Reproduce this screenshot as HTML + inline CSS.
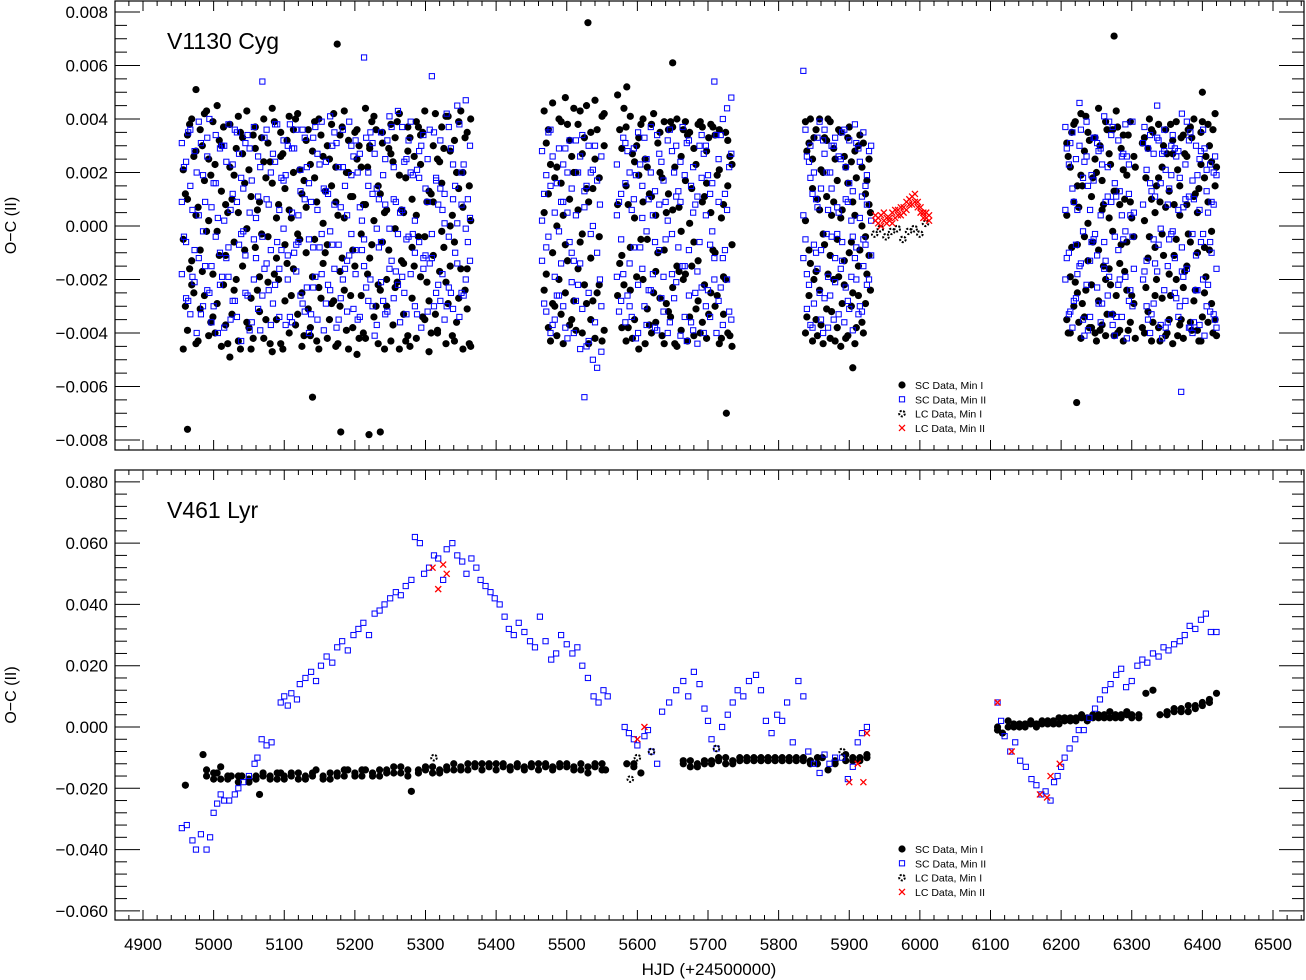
<!DOCTYPE html>
<html><head><meta charset="utf-8"><style>
html,body{margin:0;padding:0;background:#fff;}
svg{display:block;font-family:"Liberation Sans",sans-serif;}
</style></head><body>
<svg id="chart" width="1306" height="980" xmlns="http://www.w3.org/2000/svg"></svg>
<script>
// ---------- DATA (x = HJD-2450000, y in units of 1e-3 days) ----------
// Top panel: V1130 Cyg. Rows: [x, y1, y2, y3]
const topScMin1 = [
[4957,-4.6,2.1,-0.5],[4963,3.4,-3.9,1.0],[4969,-2.2,4.0,-1.3],[4975,0.4,-4.4,2.8],[4981,-3.1,3.6,-0.9],
[4987,1.7,-2.6,4.2],[4993,-4.1,0.2,2.5],[4999,-1.8,3.9,-3.4],[5005,-0.2,4.5,-2.9],[5011,1.3,-4.5,3.0],
[5017,-1.1,0.8,-3.7],[5023,2.2,-4.9,3.8],[5029,-0.6,1.9,-2.4],[5035,4.1,-4.3,0.5],[5041,2.7,-1.5,3.3],
[5047,-3.6,-0.1,4.3],[5053,-2.7,1.1,-4.6],[5059,2.9,-0.8,3.7],[5065,-3.2,0.9,-1.9],[5071,4.0,-4.2,2.4],
[5077,-0.4,3.1,-2.1],[5083,1.6,-4.7,4.4],[5089,-1.2,0.3,-3.5],[5095,2.6,-4.4,3.5],[5101,-0.7,1.4,-2.8],
[5107,4.1,-4.0,0.6],[5113,2.0,-1.6,3.6],[5119,-3.3,-0.3,4.2],[5125,-2.5,1.2,-4.5],[5131,3.2,-1.0,0.7],
[5137,-3.8,2.3,-4.1],[5143,3.9,-0.5,1.8],[5149,-2.3,4.0,-4.6],[5155,0.1,2.6,-1.4],[5161,-4.2,3.0,-0.7],
[5167,1.5,-2.9,3.8],[5173,-4.5,0.9,2.2],[5179,-1.7,3.4,-3.0],[5185,0.3,4.3,-2.4],[5191,2.0,-4.6,3.2],
[5197,-0.9,1.1,-3.8],[5203,2.5,-4.8,3.6],[5209,-0.3,2.2,-2.6],[5215,4.4,-4.2,0.8],[5221,2.9,-1.2,3.0],
[5227,-3.4,0.2,4.1],[5233,-2.2,1.5,-4.4],[5239,3.1,-0.6,3.5],[5245,-3.0,0.6,-2.0],[5251,3.8,-4.3,2.7],
[5257,-0.1,3.3,-2.3],[5263,1.9,-4.6,4.2],[5269,-1.4,0.5,-3.3],[5275,2.8,-4.1,3.7],[5281,-0.8,1.0,-2.7],
[5287,3.9,-4.2,0.4],[5293,2.3,-1.9,3.4],[5299,-3.5,-0.4,4.3],[5305,-2.8,1.3,-4.7],[5311,3.0,-1.1,0.9],
[5317,-3.9,2.5,-4.0],[5323,3.7,-0.2,1.6],[5329,-2.1,4.1,-4.4],[5335,0.0,2.8,-1.5],[5341,-4.3,3.2,-0.6],
[5347,1.4,-2.7,3.9],[5353,-4.6,0.7,2.0],[5359,-1.6,3.5,-3.1],[5364,0.2,4.0,-4.5],
[5468,-2.4,4.3,0.5],[5474,3.6,-3.8,1.2],[5480,-1.0,4.6,-2.9],[5486,2.2,-4.1,0.0],[5492,-3.3,3.9,1.6],
[5498,4.8,-2.5,-0.7],[5504,1.0,-3.7,3.2],[5510,-2.8,4.4,2.0],[5516,0.6,-1.6,3.8],[5522,-4.0,2.7,-0.3],
[5528,4.5,-2.9,1.4],[5534,-1.2,3.5,-3.5],[5540,2.5,-4.2,4.7],[5546,-0.4,1.8,-2.2],[5553,3.0,-3.9,4.2],
[5572,4.9,-2.6,0.8],[5578,-3.8,2.9,-1.1],[5584,1.5,-4.3,3.7],[5590,-0.8,4.1,-2.4],[5596,2.4,-3.5,0.3],
[5602,-4.6,3.3,1.9],[5608,0.9,-2.0,4.0],[5614,-3.1,2.2,-0.5],[5620,3.8,-4.0,1.1],[5626,-1.7,0.4,-3.6],
[5632,3.5,-2.7,2.0],[5638,-4.4,3.9,-0.9],[5644,1.2,-3.2,3.6],[5650,-2.3,3.7,0.6],[5656,4.0,-4.5,-1.5],
[5662,-0.2,2.6,-3.9],[5668,3.9,-1.8,1.7],[5674,-3.4,0.1,3.5],[5680,2.9,-4.1,-0.6],[5686,-1.3,3.8,-2.8],
[5692,3.7,-3.6,0.9],[5698,-4.2,1.6,2.8],[5704,0.5,-2.5,3.8],[5710,-3.0,3.4,-1.0],[5716,2.1,-4.4,3.6],
[5722,-1.9,0.8,-3.3],[5728,3.2,-4.0,1.5],[5734,-0.7,2.3,-4.5],
[5838,3.9,-4.0,0.2],[5843,-2.6,3.1,-0.9],[5848,1.4,-4.3,2.5],[5853,-1.7,3.6,-3.5],[5858,0.6,-2.4,4.0],
[5863,-4.4,2.0,-0.3],[5868,3.2,-3.1,1.1],[5873,-1.1,3.9,-4.2],[5878,0.9,-2.0,2.9],[5883,-3.8,1.7,-0.5],
[5888,3.5,-4.5,0.3],[5893,-2.2,2.6,-1.3],[5898,1.6,-4.1,3.3],[5903,-0.6,2.4,-3.0],[5908,2.8,-4.4,0.4],
[5913,-1.5,3.0,-2.6],[5918,0.0,-3.6,2.2],[5923,-2.9,1.2,-0.4],[5928,2.5,-1.1,0.8],
[6208,3.1,-3.5,0.4],[6213,-1.9,2.2,-4.0],[6218,0.9,-3.0,3.8],[6223,-2.5,1.5,-0.7],[6228,4.2,-4.2,1.9],
[6233,-0.4,2.8,-3.4],[6238,3.5,-1.3,0.1],[6243,-3.8,1.1,-2.2],[6248,2.5,-4.0,3.3],[6253,-0.9,4.4,-2.8],
[6258,1.7,-3.7,0.6],[6263,-2.0,3.9,-4.1],[6268,0.3,-1.6,2.7],[6273,-3.3,3.6,-0.2],[6278,4.3,-2.6,1.3],
[6283,-1.4,0.8,-3.9],[6288,2.1,-4.3,3.4],[6293,-0.6,1.9,-2.4],[6298,3.9,-3.6,0.9],[6303,-2.9,2.6,-0.4],
[6318,3.3,-4.0,0.2],[6323,-1.2,2.9,-3.2],[6328,1.0,-4.3,3.6],[6333,-2.6,0.5,-0.8],[6338,3.8,-3.8,1.8],
[6343,-0.3,2.2,-2.7],[6348,3.6,-4.1,0.7],[6353,-1.8,1.3,-3.5],[6358,2.7,-4.4,3.2],[6363,-0.5,3.9,-2.0],
[6368,1.5,-3.7,0.4],[6373,-2.3,3.4,-4.2],[6378,0.8,-1.5,2.6],[6383,-3.6,3.7,-0.6],[6388,4.0,-2.8,1.1],
[6393,-1.0,0.5,-3.9],[6398,2.3,-4.3,3.5],[6403,-0.8,1.8,-2.5],[6408,3.8,-3.6,0.9],[6413,-2.9,2.4,-0.2],
[6418,4.2,-3.5,1.5],
[4963,-7.6],[4975,5.1],[5140,-6.4],[5175,6.8],[5180,-7.7],[5220,-7.8],[5236,-7.7],[5530,7.6],
[5585,5.2],[5650,6.1],[5726,-7.0],[5905,-5.3],[6222,-6.6],[6275,7.1],[6400,5.0]
];
const topScMin1Extra = [
[4960,1.2,-3.0],[4966,-1.6,3.8],[4972,2.6,-2.5],[4978,-4.3,0.7],[4984,3.0,-1.7],[4990,-0.2,4.3],[4996,-3.6,1.9],
[5002,2.3,-4.0],[5008,-1.1,3.2],[5014,3.7,-2.2],[5020,-4.4,0.5],[5026,1.0,-3.3],[5032,-2.0,2.9],[5038,3.5,-4.6],
[5044,-0.9,1.6],[5050,2.1,-3.8],[5056,-4.2,3.4],[5062,0.6,-2.4],[5068,3.3,-0.3],[5074,-3.5,1.8],[5080,2.4,-4.4],
[5086,-1.8,3.9],[5092,0.8,-2.0],[5098,-4.6,2.7],[5104,3.2,-1.4],[5110,-2.6,0.3],[5116,4.0,-3.7],[5122,-0.5,2.1],
[5128,1.7,-4.1],[5134,-3.1,3.6],[5140,2.8,-1.9],[5146,-4.3,0.9],[5152,3.4,-2.7],[5158,-1.0,1.3],[5164,2.5,-3.5],
[5170,-2.8,4.2],[5176,0.4,-4.4],[5182,3.7,-1.2],[5188,-3.9,2.0],[5194,1.1,-2.6],[5200,-1.5,3.5],[5206,3.0,-4.2],
[5212,-4.0,0.8],[5218,2.2,-1.8],[5224,-0.7,3.9],[5230,3.6,-3.0],[5236,-2.4,1.2],[5242,0.5,-4.6],[5248,2.9,-0.9],
[5254,-3.7,2.4],[5260,3.9,-2.1],[5266,-1.3,0.6],[5272,1.8,-4.3],[5278,-4.5,3.3],[5284,2.6,-1.5],[5290,-0.4,3.7],
[5296,3.5,-3.4],[5302,-2.1,0.9],[5308,1.2,-4.0],[5314,-3.3,4.2],[5320,2.4,-1.7],[5326,-0.8,2.9],[5332,4.1,-2.9],
[5338,-4.1,0.4],[5344,2.0,-3.6],[5350,-1.6,4.3],[5356,3.3,-2.4],[5362,-4.4,1.5],
[5471,3.1,-1.8],[5477,-4.3,2.3],[5483,1.8,-3.0],[5489,-2.0,4.0],[5495,0.4,-4.4],[5501,3.8,-1.3],[5507,-3.5,2.6],
[5513,2.0,-3.9],[5519,-0.6,4.3],[5525,3.3,-2.2],[5531,-4.4,0.9],[5537,1.4,-2.8],[5543,-2.5,3.6],[5550,4.1,-4.3],
[5575,3.6,-1.4],[5581,-2.2,4.4],[5587,0.8,-3.8],[5593,-4.2,2.7],[5599,3.0,-1.9],[5605,-0.5,3.8],[5611,2.5,-4.4],
[5617,-3.7,1.2],[5623,4.2,-2.5],[5629,-1.0,3.1],[5635,1.8,-4.1],[5641,-2.9,0.5],[5647,3.9,-3.4],[5653,-4.4,2.2],
[5659,0.7,-1.7],[5665,-2.0,3.6],[5671,3.4,-4.3],[5677,-1.5,1.4],[5683,2.3,-3.1],[5689,-4.0,3.9],[5695,1.1,-2.2],
[5701,-3.3,3.3],[5707,3.7,-0.9],[5713,-2.6,1.9],[5719,0.3,-4.2],[5725,3.5,-2.0],[5731,-4.1,2.6],
[5840,2.8,-3.4],[5845,-1.4,4.0],[5850,3.3,-2.0],[5855,-4.1,1.0],[5860,2.1,-3.7],[5865,-0.7,3.3],[5870,4.0,-1.8],
[5875,-3.2,0.4],[5880,2.5,-4.3],[5885,-1.9,3.6],[5890,0.6,-2.9],[5895,-4.2,2.2],[5900,3.7,-1.0],[5905,-2.5,0.9],
[5910,1.8,-3.8],[5915,-0.9,3.4],[5920,3.1,-4.0],[5925,-1.8,1.7],[5930,0.5,-2.4],
[6210,2.6,-4.0],[6215,-0.8,3.5],[6220,3.9,-2.1],[6225,-3.6,0.7],[6230,1.5,-2.9],[6235,-2.4,4.1],[6240,3.2,-3.8],
[6245,-0.6,1.8],[6250,2.0,-4.3],[6255,-3.9,3.0],[6260,0.8,-1.5],[6265,3.6,-3.3],[6270,-2.2,2.3],[6275,1.3,-4.1],
[6280,-4.0,3.7],[6285,2.9,-0.7],[6290,-1.7,1.0],[6295,3.4,-3.9],[6300,-2.6,0.3],[6305,2.2,-4.2],
[6315,-3.8,3.1],[6320,1.8,-2.3],[6325,-0.4,4.0],[6330,3.5,-3.6],[6335,-2.0,1.5],[6340,0.9,-4.3],[6345,3.0,-1.1],
[6350,-4.0,2.7],[6355,3.8,-2.6],[6360,-1.1,0.8],[6365,2.1,-4.1],[6370,-3.5,3.3],[6375,2.7,-1.7],[6380,-0.3,3.6],
[6385,3.3,-3.9],[6390,-2.4,1.2],[6395,1.4,-4.3],[6400,-3.4,3.9],[6405,2.6,-1.9],[6410,-0.9,3.0],[6415,3.6,-4.0],
[6420,-4.1,2.2]
];
const topScMin2 = [
[4955,3.1,-1.8,0.9],[4961,-2.7,2.4,-0.6],[4967,1.5,-3.3,3.6],[4973,-0.9,2.8,-2.1],[4979,3.9,-1.2,0.4],
[4985,-3.0,1.9,-0.2],[4991,2.6,-2.4,3.3],[4997,-1.5,0.7,-3.6],[5003,3.4,-0.4,1.6],[5009,-2.2,2.9,-1.0],
[5015,0.2,-3.8,3.0],[5021,-1.9,3.8,-0.8],[5027,2.3,-2.8,1.2],[5033,-3.4,0.9,3.5],[5039,1.8,-4.3,-0.3],
[5045,-1.1,3.1,-2.5],[5051,2.9,-3.9,0.5],[5057,-0.5,3.7,-2.0],[5063,1.1,-3.1,2.6],[5069,-2.6,5.4,-0.4],
[5075,3.6,-1.4,1.0],[5081,-3.7,2.0,-0.9],[5087,2.4,-2.2,3.8],[5093,-1.6,0.6,-3.4],[5099,3.2,-0.1,1.7],
[5105,-2.0,3.0,-1.1],[5111,0.5,-3.6,2.9],[5117,-1.7,3.6,-0.7],[5123,2.1,-2.6,1.3],[5129,-3.2,1.0,3.3],
[5135,1.6,-4.0,-0.5],[5141,-0.8,3.3,-2.3],[5147,2.7,-3.5,0.6],[5153,-0.3,3.9,-1.8],[5159,1.3,-2.9,2.4],
[5165,-2.4,4.1,-0.2],[5171,3.5,-1.6,0.8],[5177,-3.5,2.2,-0.7],[5183,2.2,-2.0,3.6],[5189,-1.3,0.4,-3.2],
[5195,3.0,-0.3,1.9],[5201,-1.8,3.2,-0.9],[5207,0.7,-3.4,2.7],[5213,-1.5,6.3,-0.5],[5219,2.0,-2.8,1.5],
[5225,-3.0,1.2,3.1],[5231,1.4,-3.7,-0.1],[5237,-0.6,3.5,-2.1],[5243,2.5,-3.3,0.8],[5249,-0.1,4.1,-1.6],
[5255,1.0,-2.7,2.2],[5261,-2.2,4.3,-0.3],[5267,3.7,-1.9,0.6],[5273,-3.3,2.5,-0.5],[5279,2.0,-1.8,3.9],
[5285,-1.0,0.2,-3.0],[5291,2.8,-0.6,1.8],[5297,-1.6,3.4,-1.2],[5303,0.9,-3.2,2.5],[5309,-1.2,5.6,-0.3],
[5315,1.8,-2.5,1.7],[5321,-2.8,1.4,3.2],[5327,1.2,-3.5,0.1],[5333,-0.4,3.7,-2.3],[5339,2.3,-3.1,1.0],
[5345,0.1,4.5,-1.4],[5351,0.8,-2.5,2.0],[5357,-2.0,4.7,-0.1],[5363,3.0,-1.3,0.3],
[5465,2.8,-1.3,0.2],[5471,-3.2,1.9,-0.8],[5477,1.5,-4.0,3.6],[5483,-1.9,0.5,-3.5],[5489,2.9,-0.2,-2.6],
[5495,-3.0,2.3,0.9],[5501,0.5,-4.2,2.0],[5507,-2.1,1.4,-1.0],[5513,3.2,-2.8,0.4],[5519,-1.4,2.6,-4.6],
[5525,0.7,-6.4,1.3],[5531,-2.5,3.0,-4.3],[5537,2.1,-5.0,0.0],[5543,-1.0,1.7,-5.3],[5549,2.6,-3.0,-4.7],
[5571,2.3,-1.9,0.4],[5577,-2.8,1.2,-0.5],[5583,3.1,-3.6,1.6],[5589,-1.4,2.0,-3.0],[5595,1.0,-0.8,2.9],
[5601,-2.2,3.5,-4.0],[5607,0.3,-1.6,1.5],[5613,-3.7,2.5,-0.2],[5619,2.0,-2.4,3.7],[5625,-0.6,1.3,-3.8],
[5631,2.7,-0.9,0.8],[5637,-3.2,1.7,-1.9],[5643,0.2,-4.0,3.2],[5649,-1.8,2.8,-0.3],[5655,3.0,-2.1,1.1],
[5661,-4.1,0.9,2.4],[5667,1.9,-1.5,-3.4],[5673,-0.9,3.2,-2.6],[5679,2.2,-3.9,0.5],[5685,-1.7,1.1,-4.4],
[5691,3.4,-2.3,1.8],[5697,-3.0,0.4,3.0],[5703,1.2,-3.4,-0.7],[5709,-2.0,5.4,-1.2],[5715,2.5,-2.8,0.9],
[5721,-1.2,4.0,-3.7],[5727,0.6,-2.0,4.4],[5733,-3.5,2.7,4.8],
[5835,5.8,-1.2,0.4],[5840,-3.1,2.6,-1.8],[5845,1.8,-3.7,3.0],[5850,-0.7,2.0,-2.9],[5855,3.3,-1.6,0.7],
[5860,-3.5,1.4,-0.9],[5865,2.7,-2.7,3.6],[5870,-1.9,0.6,-3.8],[5875,3.0,-0.4,1.4],[5880,-2.1,3.3,-1.2],
[5885,0.5,-3.3,2.6],[5890,-1.3,3.5,-0.6],[5895,2.2,-2.3,1.0],[5900,-3.1,1.6,3.2],[5905,1.3,-3.9,-0.4],
[5910,-0.8,3.1,-2.0],[5915,2.4,-3.0,0.3],[5920,-0.5,3.5,-1.5],[5925,0.8,-2.2,1.9],[5931,-1.1,3.0,0.2],
[6206,3.7,-2.0,0.6],[6211,-3.3,2.3,-1.0],[6216,1.4,-3.8,3.5],[6221,-0.7,2.5,-2.7],[6226,3.0,-1.5,4.6],
[6231,-3.5,1.8,-0.2],[6236,2.6,-2.2,3.9],[6241,-1.3,0.6,-3.4],[6246,3.3,-0.5,1.7],[6251,-2.3,3.1,-1.1],
[6256,0.4,-3.6,2.9],[6261,-1.6,4.1,-0.6],[6266,2.2,-2.6,1.1],[6271,-3.3,0.9,3.4],[6276,1.6,-4.1,-0.4],
[6281,-0.9,3.2,-2.2],[6286,2.6,-3.4,0.4],[6291,-0.2,3.8,-1.9],[6296,1.2,-2.8,2.3],[6301,-3.0,3.9,-0.4],
[6316,3.1,-2.0,0.8],[6321,-3.0,2.1,-1.3],[6326,1.6,-4.0,3.4],[6331,-0.5,2.7,-2.9],[6336,3.3,-1.7,4.5],
[6341,-3.7,1.6,-0.1],[6346,2.8,-2.4,3.6],[6351,-1.5,0.8,-3.6],[6356,3.0,-0.3,1.9],[6361,-2.5,2.9,-1.2],
[6366,0.6,-3.4,2.8],[6371,-1.7,4.2,-0.8],[6376,2.3,-2.8,1.0],[6381,-3.8,1.1,3.2],[6386,1.7,-4.0,-0.3],
[6391,-1.1,3.0,-2.4],[6396,2.5,-3.7,0.6],[6401,-0.3,3.6,-2.0],[6406,1.3,-3.0,2.1],[6411,-3.2,2.3,-0.6],
[6416,2.0,-3.3,0.8],[6420,-1.6,1.9,-3.8],[6370,-6.2]
];
const topScMin2Extra = [
[4958,-0.4,2.2],[4964,3.5,-2.8],[4970,-1.9,0.6],[4976,2.0,-4.0],[4982,-3.3,3.1],[4988,0.9,-1.5],[4994,-2.5,4.0],
[5000,1.6,-3.0],[5006,-4.0,0.3],[5012,3.0,-1.9],[5018,-1.2,2.4],[5024,0.6,-3.5],[5030,-2.8,3.6],[5036,2.7,-0.7],
[5042,-0.2,1.4],[5048,3.4,-2.6],[5054,-3.6,1.7],[5060,0.3,-1.2],[5066,2.2,-3.9],[5072,-1.6,3.3],[5078,0.8,-2.4],
[5084,-2.9,2.7],[5090,3.8,-0.6],[5096,-0.9,1.8],[5102,1.9,-3.7],[5108,-3.4,3.8],[5114,2.9,-1.0],[5120,-0.6,0.4],
[5126,3.6,-2.9],[5132,-2.3,2.2],[5138,0.9,-3.3],[5144,-1.9,3.7],[5150,2.3,-0.8],[5156,-3.9,1.4],[5162,1.2,-2.2],
[5168,-0.7,3.0],[5174,3.1,-3.8],[5180,-2.7,0.7],[5186,1.5,-1.6],[5192,-1.1,3.9],[5198,2.6,-3.1],[5204,-3.5,2.0],
[5210,0.2,-0.9],[5216,3.3,-2.3],[5222,-2.0,3.5],[5228,2.7,-4.1],[5234,-0.8,1.0],[5240,1.9,-2.8],[5246,-3.2,3.2],
[5252,3.7,-1.3],[5258,-1.7,0.9],[5264,0.5,-3.6],[5270,-2.5,2.4],[5276,3.2,-0.4],[5282,-0.3,1.9],[5288,2.1,-3.3],
[5294,-3.8,3.0],[5300,1.4,-1.1],[5306,-1.4,3.6],[5312,3.5,-3.0],[5318,-2.2,0.8],[5324,0.6,-1.8],[5330,-3.0,4.2],
[5336,2.9,-2.5],[5342,-1.0,1.5],[5348,3.8,-3.4],[5354,-2.6,2.3],[5360,1.0,-0.6],
[5468,1.2,-2.9],[5474,-0.4,3.5],[5480,2.6,-3.7],[5486,-2.6,1.6],[5492,0.9,-1.4],[5498,-3.8,2.9],[5504,3.2,-0.6],
[5510,-1.3,-4.0],[5516,2.0,-2.2],[5522,-3.1,3.4],[5528,1.5,-4.5],[5534,-0.3,2.0],[5540,3.0,-3.6],[5547,-2.0,0.8],
[5574,0.9,-3.2],[5580,-1.8,3.3],[5586,2.8,-2.6],[5592,-3.4,0.6],[5598,1.9,-4.2],[5604,-0.8,2.3],[5610,3.3,-3.0],
[5616,-2.4,1.0],[5622,0.4,-1.8],[5628,-3.9,3.4],[5634,2.4,-2.7],[5640,-0.5,0.9],[5646,3.6,-3.6],[5652,-2.7,2.0],
[5658,1.3,-0.8],[5664,-1.5,3.7],[5670,3.1,-4.3],[5676,-3.6,1.5],[5682,0.8,-2.5],[5688,-0.6,3.0],[5694,2.7,-4.0],
[5700,-2.4,1.9],[5706,1.6,-0.2],[5712,-4.0,3.4],[5718,3.4,-2.3],[5724,-0.9,1.2],[5730,2.2,-3.2],
[5838,-0.5,3.6],[5843,2.4,-2.2],[5848,-3.8,1.2],[5853,1.0,-1.0],[5858,-2.5,3.9],[5863,3.2,-4.0],[5868,-0.3,2.0],
[5873,2.0,-2.6],[5878,-3.5,3.0],[5883,0.7,-0.3],[5888,-1.6,2.5],[5893,3.6,-3.6],[5898,-2.8,0.9],[5903,0.2,-1.9],
[5908,-1.2,3.8],[5913,2.9,-3.3],[5918,-3.2,1.1],[5923,1.5,-0.7],[5928,-2.0,2.8],
[6208,-1.2,2.9],[6213,3.1,-3.2],[6218,-2.8,0.9],[6223,0.6,-1.8],[6228,-1.4,3.6],[6233,2.4,-4.1],[6238,-3.9,1.5],
[6243,1.9,-0.6],[6248,-0.3,3.3],[6253,2.8,-2.9],[6258,-2.9,2.3],[6263,0.9,-1.3],[6268,-1.9,3.9],[6273,3.7,-3.7],
[6278,-3.4,1.1],[6283,1.3,-2.0],[6288,-0.5,2.7],[6293,2.6,-4.2],[6298,-2.4,0.4],[6303,0.5,-1.6],
[6318,-1.7,3.7],[6323,2.9,-3.5],[6328,-3.3,1.3],[6333,1.1,-1.4],[6338,-0.7,3.2],[6343,2.7,-4.2],[6348,-3.8,2.1],
[6353,1.4,-0.5],[6358,-0.2,3.4],[6363,2.6,-2.7],[6368,-3.0,1.8],[6373,0.7,-1.9],[6378,-1.6,3.9],[6383,3.5,-3.8],
[6388,-3.6,1.0],[6393,1.9,-2.4],[6398,-0.6,2.8],[6403,2.9,-4.1],[6408,-2.2,0.5],[6413,0.9,-1.0],[6418,-3.5,2.6]
];
const topLcMin1 = [[5936,-0.3],[5944,-0.1],[5952,-0.4],[5960,-0.2],[5968,-0.1],[5976,-0.5],[5984,-0.2],[5992,-0.1],[6000,-0.3],[6008,0.1]];
const topLcMin2 = [
[5937,0.2,0.4],[5941,0.1,0.3],[5945,0.4,0.0],[5949,0.2,0.5],[5953,0.1,0.3],[5957,0.3,0.2],[5961,0.5,0.1],
[5965,0.3,0.6],[5969,0.6,0.4],[5973,0.4,0.7],[5977,0.7,0.5],[5981,0.9,0.6],[5985,1.0,0.8],[5989,0.8,1.1],
[5993,1.2,0.9],[5997,0.9,0.7],[6001,0.7,0.5],[6005,0.5,0.3],[6009,0.3,0.5],[6013,0.4,0.2]
];
// Bottom panel: V461 Lyr (y in 1e-3). Rows [x, y...]
const botScMin1 = [
[4960,-19],[4985,-9],[4990,-14,-16],[5000,-17,-15],[5005,-15],[5010,-13,-17],[5020,-17,-16],[5025,-16],[5035,-18,-16],
[5040,-16],[5050,-18,-17],[5060,-16,-17],[5065,-22],[5070,-15,-16],[5080,-16,-17],[5090,-17,-15],[5095,-15],[5100,-16,-17],
[5110,-16,-15],[5120,-15,-17],[5130,-17,-16],[5140,-16,-15],[5145,-14],[5155,-16,-17],[5165,-17,-15],[5175,-15,-16],
[5185,-16,-14],[5190,-14],[5200,-15,-16],[5210,-16,-14],[5215,-14],[5225,-15,-16],[5235,-16,-14],[5245,-14,-15],
[5255,-15,-13],[5265,-13,-15],[5275,-16,-14],[5280,-21],[5290,-15,-14],[5300,-14,-13],[5310,-13,-15],[5320,-15,-14],
[5330,-13,-14],[5340,-14,-12],[5350,-13,-14],[5360,-14,-12],[5370,-12,-13],[5380,-14,-12],[5390,-13,-12],[5400,-12,-14],
[5410,-13,-12],[5420,-14,-13],[5430,-12,-13],[5440,-13,-14],[5450,-12,-13],[5460,-14,-12],[5470,-12,-13],[5480,-13,-14],
[5490,-12,-13],[5500,-13,-12],[5510,-14,-13],[5520,-12,-14],[5530,-15,-13],[5540,-13,-12],[5550,-12,-14],[5555,-14],
[5585,-12],[5595,-13,-12],[5605,-15],[5665,-12,-11],[5675,-11,-13],[5685,-13,-12],[5695,-11,-12],[5705,-12,-11],
[5715,-11,-10],[5725,-10,-12],[5735,-12,-11],[5745,-11,-10],[5755,-10,-11],[5765,-11,-10],[5775,-10,-11],[5785,-11,-10],
[5795,-10,-11],[5805,-11,-10],[5815,-10,-11],[5825,-11,-10],[5835,-10,-11],[5845,-11,-12],[5855,-12,-10],[5862,-10],
[5870,-14],[5880,-12,-11],[5895,-9,-11],[5905,-10,-11],[5915,-11,-10],[5925,-10,-9],
[6110,0,-1],[6117,-2],[6125,2,0],[6133,0,1],[6141,1,0],[6149,0,1],[6157,1,2],[6165,0,1],[6173,1,2],[6181,2,1],
[6189,2,1],[6197,1,3],[6205,2,3],[6213,3,2],[6221,2,3],[6229,3,4],[6237,2,3],[6245,4,3],[6253,3,4],[6261,4,3],
[6269,3,5],[6277,4,3],[6285,3,4],[6293,4,5],[6300,4,3],[6310,3,4],[6320,11],[6330,12],[6340,4],[6350,4,5],[6360,5,6],
[6370,6,5],[6380,5,7],[6390,7,6],[6400,8,7],[6410,9,8],[6420,11]
];
const botScMin2 = [
[4955,-33],[4962,-32],[4970,-37],[4975,-40],[4982,-35],[4990,-40],[4995,-36],[5000,-28],[5005,-25],[5010,-22],[5015,-24],
[5022,-24],[5030,-22],[5035,-20],[5042,-18],[5050,-16],[5058,-12],[5062,-10],[5068,-4],[5075,-6],[5082,-5],[5095,8],
[5100,10],[5105,7],[5110,11],[5118,9],[5122,14],[5130,16],[5138,18],[5145,15],[5152,20],[5160,23],[5168,21],[5175,26],
[5182,28],[5190,25],[5198,30],[5205,32],[5212,34],[5220,30],[5228,37],[5235,38],[5242,40],[5250,42],[5258,44],[5265,43],
[5272,46],[5280,48],[5285,62],[5292,60],[5298,50],[5305,52],[5312,56],[5318,55],[5325,48],[5330,58],[5338,60],[5345,56],
[5352,54],[5358,50],[5365,55],[5372,52],[5378,48],[5385,46],[5392,44],[5398,42],[5405,40],[5412,36],[5418,32],[5425,30],
[5432,34],[5440,31],[5448,28],[5455,26],[5462,36],[5470,28],[5478,22],[5485,24],[5492,30],[5500,27],[5508,24],[5515,26],
[5522,20],[5530,16],[5538,10],[5545,8],[5552,12],[5558,10],
[5582,0],[5588,-2],[5595,-4],[5600,-6],[5610,-3],[5615,-1],[5620,-8],[5628,-12],[5635,5],[5645,8],[5655,12],[5665,15],
[5672,10],[5680,18],[5688,14],[5695,6],[5700,2],[5705,-4],[5712,-7],[5720,0],[5728,4],[5735,8],[5742,12],[5750,10],
[5758,15],[5768,17],[5775,12],[5782,2],[5790,-2],[5798,4],[5805,2],[5812,8],[5820,-5],[5828,15],[5835,10],[5842,-8],
[5850,-12],[5858,-15],[5865,-9],[5872,-12],[5880,-10],[5890,-10],[5898,-17],[5905,-13],[5912,-5],[5918,-2],[5925,0],
[6110,8],[6115,2],[6120,-3],[6128,-8],[6135,-5],[6142,-11],[6150,-13],[6158,-17],[6165,-19],[6172,-22],[6178,-21],
[6185,-24],[6190,-18],[6195,-16],[6200,-13],[6205,-10],[6212,-7],[6220,-4],[6225,-1],[6232,-1],[6240,3],[6248,6],
[6255,9],[6262,12],[6270,14],[6278,17],[6285,19],[6292,13],[6300,15],[6308,20],[6315,22],[6322,21],[6330,24],[6338,23],
[6345,26],[6352,25],[6360,27],[6368,28],[6375,30],[6382,33],[6390,32],[6398,35],[6405,37],[6412,31],[6420,31]
];
const botLcMin1 = [[5312,-10],[5590,-17],[5600,-10],[5620,-8],[5712,-7],[5890,-8]];
const botLcMin2 = [[5310,52],[5318,45],[5325,53],[5330,50],[5600,-4],[5610,0],[5900,-18],[5912,-12],[5920,-18],[5925,-2],[6110,8],[6130,-8],[6170,-22],[6180,-23],[6185,-16],[6198,-12]];
const xTicks = [4900,5000,5100,5200,5300,5400,5500,5600,5700,5800,5900,6000,6100,6200,6300,6400,6500];
const topYTicks = ["0.008","0.006","0.004","0.002","0.000","\u22120.002","\u22120.004","\u22120.006","\u22120.008"];
const topYVals = [8,6,4,2,0,-2,-4,-6,-8];
const botYTicks = ["0.080","0.060","0.040","0.020","0.000","\u22120.020","\u22120.040","\u22120.060"];
const botYVals = [80,60,40,20,0,-20,-40,-60];

// ---------- RENDER ----------
const NS="http://www.w3.org/2000/svg";
const svg=document.getElementById('chart');
function mk(tag,attrs,parent){const e=document.createElementNS(NS,tag);for(const k in attrs)e.setAttribute(k,attrs[k]);(parent||svg).appendChild(e);return e;}
const L=115,R=1304;
const xs=v=>143+(v-4900)*0.70625;
const panels=[
 {name:'top',t:1,b:450,ys:v=>226-v*26.75,ticks:topYTicks,vals:topYVals,minor:0.5,title:'V1130 Cyg',
  lg:{x:902,y:385},series:[topScMin1.concat(topScMin1Extra),topScMin2.concat(topScMin2Extra),topLcMin1,topLcMin2]},
 {name:'bottom',t:470,b:920,ys:v=>727-v*3.0643,ticks:botYTicks,vals:botYVals,minor:4,title:'V461 Lyr',
  lg:{x:902,y:849},series:[botScMin1,botScMin2,botLcMin1,botLcMin2]}
];
function marker(type,x,y,g){
 let e;
 if(type===0){e=mk('circle',{cx:x,cy:y,r:3.6,fill:'#000'},g);}
 else if(type===1){e=mk('rect',{x:x-2.6,y:y-2.6,width:5.2,height:5.2,fill:'none',stroke:'#0000ff','stroke-width':1},g);}
 else if(type===2){e=mk('circle',{cx:x,cy:y,r:2.8,fill:'none',stroke:'#000','stroke-width':2,'stroke-dasharray':'2 1.5'},g);}
 else {e=mk('path',{d:`M${x-3},${y-3}L${x+3},${y+3}M${x-3},${y+3}L${x+3},${y-3}`,stroke:'#ff0000','stroke-width':1.3},g);}
 return e;
}
const sNames=['sc-min-i','sc-min-ii','lc-min-i','lc-min-ii'];
const lgLabels=['SC Data, Min I','SC Data, Min II','LC Data, Min I','LC Data, Min II'];
panels.forEach(p=>{
 const g=mk('g',{});
 
 
 p.series.forEach((ser,si)=>{
  const sg=mk('g',{},g);
  
  
  ser.forEach(row=>{for(let k=1;k<row.length;k++){
   const m=marker(si,xs(row[0]),p.ys(row[k]),sg);
   
   
  }});
 });
 const fr=mk('rect',{x:L,y:p.t,width:R-L,height:p.b-p.t,fill:'none',stroke:'#000','stroke-width':1.2},g);
 
 
 for(let v=4880;v<=6540;v+=20){
  const x=xs(v);if(x<L||x>R)continue;
  const len=(v%100===0)?10:5;
  mk('line',{x1:x,y1:p.b,x2:x,y2:p.b-len,stroke:'#000'},g);
  mk('line',{x1:x,y1:p.t,x2:x,y2:p.t+len,stroke:'#000'},g);
 }
 const lo=p.vals[p.vals.length-1],hi=p.vals[0];
 for(let v=lo-p.minor*4;v<=hi+p.minor*4;v+=p.minor){
  const y=p.ys(v);if(y<p.t||y>p.b)continue;
  const maj=p.vals.some(q=>Math.abs(q-v)<1e-6);
  const len=maj?25:12;
  mk('line',{x1:L,y1:y,x2:L+len,y2:y,stroke:'#000'},g);
  mk('line',{x1:R,y1:y,x2:R-len,y2:y,stroke:'#000'},g);
 }
 p.vals.forEach((v,i)=>{
  const t=mk('text',{x:108,y:p.ys(v)+6,'text-anchor':'end','font-size':17},g);
  t.textContent=p.ticks[i];
  
  
 });
 const tt=mk('text',{x:167,y:p.t+48,'font-size':23},g);
 tt.textContent=p.title;
 
 
 const yt=mk('text',{x:0,y:0,'text-anchor':'middle','font-size':16,transform:`translate(16,${(p.t+p.b)/2}) rotate(-90)`},g);
 yt.textContent='O\u2212C (II)';
 
 
 const lg=mk('g',{},g);
 
 
 lgLabels.forEach((lab,i)=>{
  const y=p.lg.y+i*14.3;
  const e=mk('g',{},lg);
  
  
  marker(i,p.lg.x,y,e);
  const t=mk('text',{x:p.lg.x+13,y:y+4,'font-size':10.5},e);
  t.textContent=lab;
 });
});
xTicks.forEach(v=>{
 const t=mk('text',{x:xs(v),y:950,'text-anchor':'middle','font-size':17});
 t.textContent=v;
 
 
});
const xt=mk('text',{x:709,y:975,'text-anchor':'middle','font-size':17});
xt.textContent='HJD (+24500000)';


</script>
</body></html>
